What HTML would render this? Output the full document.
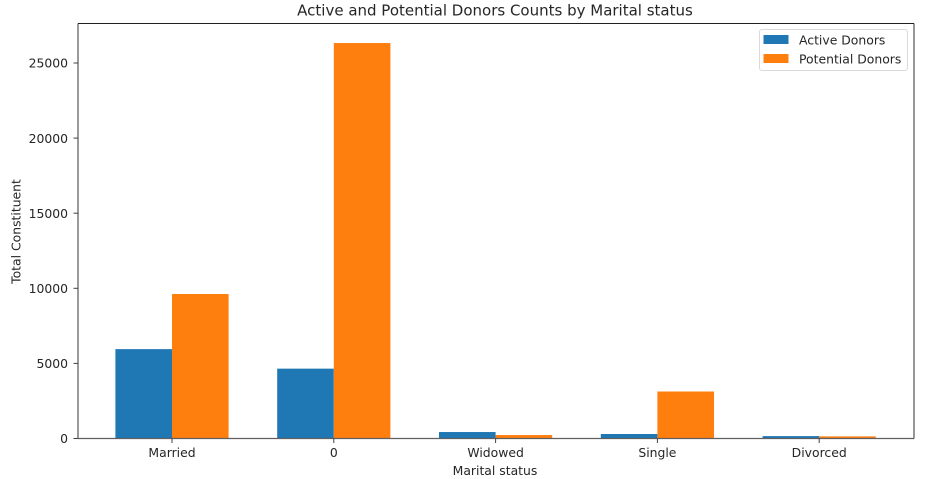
<!DOCTYPE html>
<html>
<head>
<meta charset="utf-8">
<style>
html,body{margin:0;padding:0;background:#fff;width:949px;height:479px;overflow:hidden}
svg{display:block}
text{font-family:"DejaVu Sans","Liberation Sans",sans-serif;fill:#262626;font-size:12.4px}
</style>
</head>
<body>
<svg id="chart" width="949" height="479" viewBox="0 0 949 479" xmlns="http://www.w3.org/2000/svg"></svg>
<script>
const categories = ["Married", "0", "Widowed", "Single", "Divorced"];
const activeDonors = [5950, 4650, 430, 300, 160];
const potentialDonors = [9620, 26330, 230, 3130, 140];
const yTicks = [0, 5000, 10000, 15000, 20000, 25000];
const seriesNames = ["Active Donors", "Potential Donors"];
const titleText = "Active and Potential Donors Counts by Marital status";
const xAxisTitle = "Marital status";
const yAxisTitle = "Total Constituent";

const NS = "http://www.w3.org/2000/svg";
const svg = document.getElementById("chart");
const plot = {left: 78, right: 914, top: 23.5, bottom: 438.5};
const blue = "#1f77b4", orange = "#ff7f0e";
function xScale(i){ return 172 + i * 161.8; }
function yScale(v){ return plot.bottom - v * 0.01502; }
const barWidth = 56.6;

function make(tag, attrs, text){
  const el = document.createElementNS(NS, tag);
  for (const k in attrs) el.setAttribute(k, attrs[k]);
  if (text !== undefined) el.textContent = text;
  svg.appendChild(el);
  return el;
}

categories.forEach(function(c, i){
  const x = xScale(i);
  const a = make("rect", {x: x - barWidth, y: yScale(activeDonors[i]), width: barWidth, height: plot.bottom - yScale(activeDonors[i]), fill: blue});
  
  
  const p = make("rect", {x: x, y: yScale(potentialDonors[i]), width: barWidth, height: plot.bottom - yScale(potentialDonors[i]), fill: orange});
  
  
});

const spines = [
  ["spine-left", plot.left, plot.top, plot.left, plot.bottom, "#808080", 1.6],
  ["spine-bottom", plot.left, plot.bottom, plot.right, plot.bottom, "#606060", 1.2],
  ["spine-top", plot.left, plot.top, plot.right, plot.top, "#202020", 1],
  ["spine-right", plot.right, plot.top, plot.right, plot.bottom, "#303030", 1]
];
spines.forEach(function(s){
  const l = make("line", {x1: s[1], y1: s[2], x2: s[3], y2: s[4], stroke: s[5], "stroke-width": s[6]});
  
  
});

yTicks.forEach(function(v){
  const y = yScale(v);
  const t = make("line", {x1: plot.left - 4.5, y1: y, x2: plot.left, y2: y, stroke: "#404040", "stroke-width": 1});
  
  
  const lb = make("text", {x: plot.left - 10, y: y + 4.7, "text-anchor": "end"}, String(v));
  
  
});

categories.forEach(function(c, i){
  const x = xScale(i);
  const t = make("line", {x1: x, y1: plot.bottom, x2: x, y2: plot.bottom + 4.5, stroke: "#404040", "stroke-width": 1});
  
  
  const lb = make("text", {x: x, y: 457, "text-anchor": "middle"}, c);
  
  
});

const title = make("text", {x: 495, y: 15.5, "text-anchor": "middle", style: "font-size:15px"}, titleText);



const xt = make("text", {x: 495, y: 475, "text-anchor": "middle"}, xAxisTitle);



const yt = make("text", {x: 0, y: 0, "text-anchor": "middle", transform: "translate(20.5 231.5) rotate(-90)"}, yAxisTitle);



const box = make("rect", {x: 759.5, y: 29.5, width: 148, height: 41, rx: 2.5, fill: "#fff", "fill-opacity": 0.8, stroke: "#d9d9d9", "stroke-width": 1});



seriesNames.forEach(function(n, i){
  const y = 35 + i * 19;
  const sw = make("rect", {x: 763.5, y: y, width: 25, height: 9, fill: i === 0 ? blue : orange});
  
  
  const lb = make("text", {x: 799, y: y + 9.5}, n);
  
  
});
</script>
</body>
</html>
